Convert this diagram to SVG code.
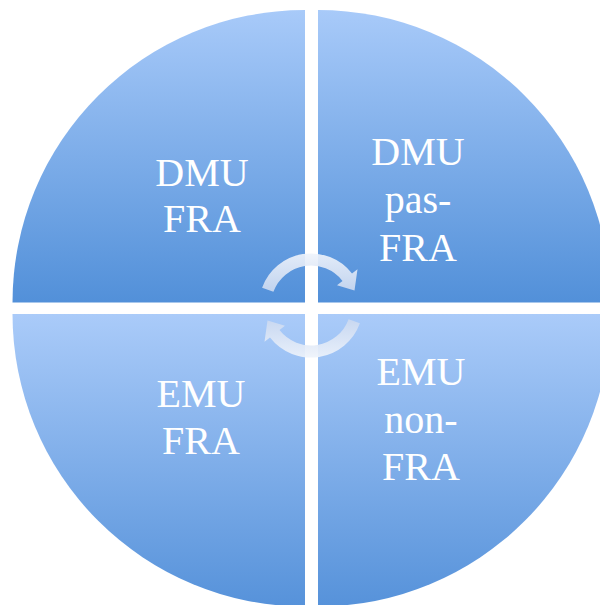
<svg xmlns="http://www.w3.org/2000/svg" xmlns:xlink="http://www.w3.org/1999/xlink" width="600" height="605" viewBox="0 0 600 605">
  <defs>
    <linearGradient id="gTop" gradientUnits="userSpaceOnUse" x1="0" y1="10" x2="0" y2="302.5">
      <stop offset="0" stop-color="#a8caf9"/>
      <stop offset="1" stop-color="#5290d9"/>
    </linearGradient>
    <linearGradient id="gBot" gradientUnits="userSpaceOnUse" x1="0" y1="314" x2="0" y2="606.5">
      <stop offset="0" stop-color="#aacbf9"/>
      <stop offset="1" stop-color="#5692da"/>
    </linearGradient>
    <linearGradient id="gArrow" x1="0" y1="0" x2="0" y2="1">
      <stop offset="0" stop-color="#eef3fb"/>
      <stop offset="1" stop-color="#cbd9f0"/>
    </linearGradient>
    <path id="arrow" d="M 262.1 287.7 A 52 52 0 0 1 352.0 273.5 L 357.5 269.2 L 354.5 290.5 L 337.0 285.2 L 342.5 280.9 A 40 40 0 0 0 273.4 291.8 Z"/>
  </defs>
  <style>
    .lbl { font-family: "Liberation Serif", "Times New Roman", serif; font-size: 40px; fill: #ffffff; text-anchor: middle; }
    .arr { fill: url(#gArrow); opacity: 0.92; }
  </style>
  <rect width="600" height="605" fill="#ffffff"/>
  <g id="q-dmu-fra">
    <path d="M 305 302.5 L 12.5 302.5 A 292.5 292.5 0 0 1 305 10 Z" fill="url(#gTop)"/>
    <text class="lbl" x="202" y="186">DMU</text>
    <text class="lbl" x="202" y="232">FRA</text>
  </g>
  <g id="q-dmu-pas-fra">
    <path d="M 318 302.5 L 318 10 A 292.5 292.5 0 0 1 610.5 302.5 Z" fill="url(#gTop)"/>
    <text class="lbl" x="418" y="164.5">DMU</text>
    <text class="lbl" x="418" y="212.5">pas-</text>
    <text class="lbl" x="418" y="261">FRA</text>
  </g>
  <g id="q-emu-fra">
    <path d="M 305 314 L 305 606.5 A 292.5 292.5 0 0 1 12.5 314 Z" fill="url(#gBot)"/>
    <text class="lbl" x="201" y="406.5">EMU</text>
    <text class="lbl" x="201" y="454">FRA</text>
  </g>
  <g id="q-emu-non-fra">
    <path d="M 318 314 L 610.5 314 A 292.5 292.5 0 0 1 318 606.5 Z" fill="url(#gBot)"/>
    <text class="lbl" x="421" y="385">EMU</text>
    <text class="lbl" x="421" y="432.5">non-</text>
    <text class="lbl" x="421" y="480">FRA</text>
  </g>
  <g id="connectors">
    <use xlink:href="#arrow" class="arr"/>
    <use xlink:href="#arrow" class="arr" transform="rotate(180 311 305.5)"/>
  </g>
</svg>
